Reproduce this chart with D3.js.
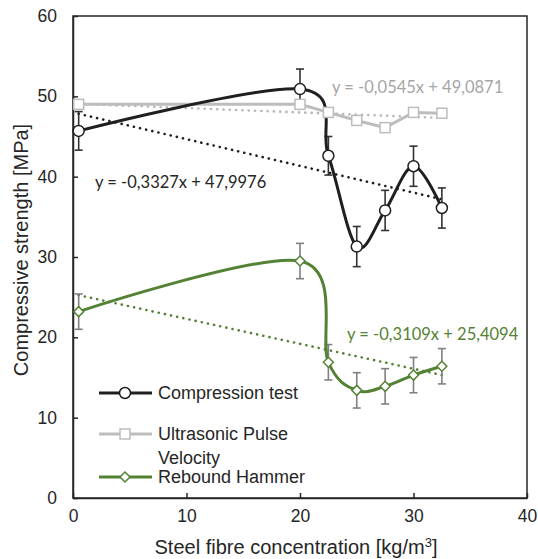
<!DOCTYPE html>
<html><head><meta charset="utf-8">
<script src="https://cdn.jsdelivr.net/npm/d3@7"></script>
<style>
html,body{margin:0;padding:0;background:#fff;}
svg{display:block;}
</style></head>
<body>
<svg id="chart" width="538" height="559"></svg>
<script>
// ---- data ----
const fibre = [0.5, 20, 22.5, 25, 27.5, 30, 32.5];
const compression = [45.7, 50.9, 42.6, 31.3, 35.8, 41.3, 36.1];
const compressionErr = [2.4, 2.5, 2.4, 2.5, 2.5, 2.5, 2.5];
const upv = [49.0, 49.0, 48.0, 47.0, 46.1, 48.0, 47.9];
const rebound = [23.2, 29.5, 16.9, 13.4, 13.9, 15.3, 16.4];
const reboundErr = [2.2, 2.2, 2.2, 2.2, 2.2, 2.2, 2.2];
const trendSlopes = [-0.3327, -0.0545, -0.3109];
const trendIntercepts = [47.9976, 49.0871, 25.4094];
const trendLabels = ["y = -0,3327x + 47,9976", "y = -0,0545x + 49,0871", "y = -0,3109x + 25,4094"];
const seriesNames = ["Compression test", "Ultrasonic Pulse Velocity", "Rebound Hammer"];
const xTicks = [0, 10, 20, 30, 40];
const yTicks = [0, 10, 20, 30, 40, 50, 60];

const colBlack = "#1f1f1f", colGray = "#bdbdbd", colGreen = "#548235";

const svg = d3.select("#chart");
const x = d3.scaleLinear().domain([0, 40]).range([73, 527]);
const y = d3.scaleLinear().domain([0, 60]).range([498, 16]);

// frame
svg.append("rect").attr("x", 73).attr("y", 16).attr("width", 454).attr("height", 482)
  .attr("fill", "none").attr("stroke", "#262626").attr("stroke-width", 1.5);

const fontA = "'Liberation Sans', Arial, sans-serif";
const fontC = "Lato, 'Open Sans', sans-serif";

const xAxis = svg.append("g").attr("transform", `translate(0,498)`)
  .call(d3.axisBottom(x).tickValues(xTicks).tickSizeInner(-5).tickSizeOuter(0).tickPadding(12));
const yAxis = svg.append("g").attr("transform", `translate(73,0)`)
  .call(d3.axisLeft(y).tickValues(yTicks).tickSizeInner(-5).tickSizeOuter(0).tickPadding(16));
[xAxis, yAxis].forEach(a => {
  a.select(".domain").attr("stroke", "#262626").attr("stroke-width", 1.5);
  a.selectAll(".tick line").attr("stroke", "#262626").attr("stroke-width", 1.5);
  a.selectAll(".tick text").attr("font-family", fontA).attr("font-size", 17.5).attr("fill", "#262626");
});

// axis titles
svg.append("text").attr("x", 296).attr("y", 554).attr("text-anchor", "middle")
  .attr("font-family", fontA).attr("font-size", 20).attr("fill", "#262626")
  .html('Steel fibre concentration [kg/m<tspan baseline-shift="super" font-size="13">3</tspan>]');
svg.append("text").attr("transform", "translate(28,250) rotate(-90)").attr("text-anchor", "middle")
  .attr("font-family", fontA).attr("font-size", 20).attr("fill", "#262626")
  .text("Compressive strength [MPa]");

// trend lines
const trendCols = [colBlack, "#b8b8b8", colGreen];
trendSlopes.forEach((m, i) => {
  const x0 = fibre[0], x1 = fibre[fibre.length - 1];
  svg.append("line")
    .attr("x1", x(x0)).attr("y1", y(m * x0 + trendIntercepts[i]))
    .attr("x2", x(x1)).attr("y2", y(m * x1 + trendIntercepts[i]))
    .attr("stroke", trendCols[i]).attr("stroke-width", 2.6)
    .attr("stroke-linecap", "round").attr("stroke-dasharray", "0.1 6.2");
});

// error bars
function errBars(vals, errs, col) {
  const g = svg.append("g").attr("stroke", col).attr("stroke-width", 1.6);
  vals.forEach((v, i) => {
    const cx = x(fibre[i]);
    g.append("line").attr("x1", cx).attr("x2", cx).attr("y1", y(v - errs[i])).attr("y2", y(v + errs[i]));
    [v - errs[i], v + errs[i]].forEach(e => g.append("line").attr("x1", cx - 4).attr("x2", cx + 4).attr("y1", y(e)).attr("y2", y(e)));
  });
}
errBars(rebound, reboundErr, "#808080");
errBars(compression, compressionErr, "#333333");

const smooth = d3.line().x((d, i) => x(fibre[i])).y(d => y(d)).curve(d3.curveCardinal.tension(0));
const straight = d3.line().x((d, i) => x(fibre[i])).y(d => y(d));

// series lines
svg.append("path").attr("d", smooth(rebound)).attr("fill", "none").attr("stroke", colGreen).attr("stroke-width", 3);
svg.append("path").attr("d", straight(upv)).attr("fill", "none").attr("stroke", colGray).attr("stroke-width", 3);
svg.append("path").attr("d", smooth(compression)).attr("fill", "none").attr("stroke", colBlack).attr("stroke-width", 3);

// markers
function drawDiamond(g, cx, cy) {
  g.append("path").attr("d", "M0,-5L5,0L0,5L-5,0Z").attr("transform", `translate(${cx},${cy})`)
    .attr("fill", "#fff").attr("stroke", colGreen).attr("stroke-width", 1.5);
}
function drawSquare(g, cx, cy) {
  g.append("rect").attr("x", cx - 5).attr("y", cy - 5).attr("width", 10).attr("height", 10)
    .attr("fill", "#fff").attr("stroke", colGray).attr("stroke-width", 1.5);
}
function drawCircle(g, cx, cy) {
  g.append("circle").attr("cx", cx).attr("cy", cy).attr("r", 5.5)
    .attr("fill", "#fff").attr("stroke", colBlack).attr("stroke-width", 1.5);
}
const mk = svg.append("g");
rebound.forEach((v, i) => drawDiamond(mk, x(fibre[i]), y(v)));
upv.forEach((v, i) => drawSquare(mk, x(fibre[i]), y(v)));
compression.forEach((v, i) => drawCircle(mk, x(fibre[i]), y(v)));

// equations
const eqPos = [[95, 182], [332, 87], [347, 334]];
const eqCols = ["#262626", "#a6a6a6", colGreen];
trendLabels.forEach((t, i) => {
  svg.append("text").attr("x", eqPos[i][0]).attr("y", eqPos[i][1]).attr("dy", "0.35em")
    .attr("font-family", fontC).attr("font-size", 16.5).attr("fill", eqCols[i]).text(t);
});

// legend
const leg = svg.append("g").attr("font-family", fontA).attr("font-size", 18).attr("fill", "#262626");
const legRows = [
  {y: 393, col: colBlack, draw: drawCircle, lines: [seriesNames[0]]},
  {y: 434, col: colGray, draw: drawSquare, lines: ["Ultrasonic Pulse", "Velocity"]},
  {y: 477, col: colGreen, draw: drawDiamond, lines: [seriesNames[2]]}
];
legRows.forEach(r => {
  leg.append("line").attr("x1", 99).attr("x2", 152).attr("y1", r.y).attr("y2", r.y)
    .attr("stroke", r.col).attr("stroke-width", 3);
  r.draw(leg, 125, r.y);
  r.lines.forEach((t, k) => leg.append("text").attr("x", 158).attr("y", r.y + k * 23.5).attr("dy", "0.35em").text(t));
});
</script>
</body></html>
